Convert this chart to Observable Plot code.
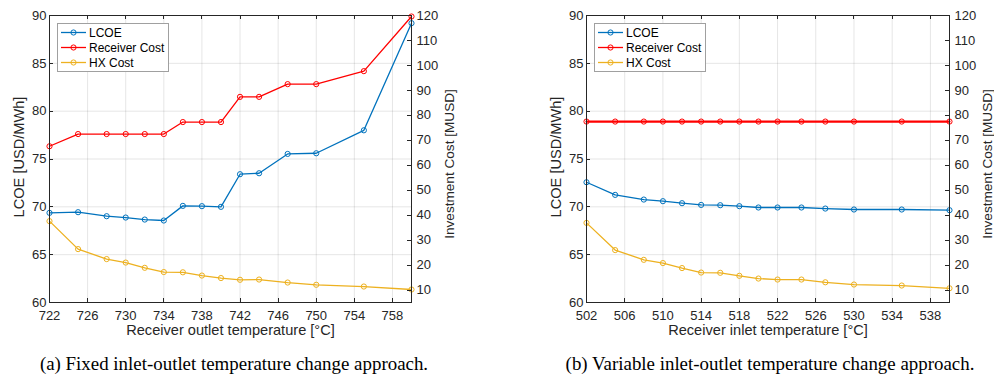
<!DOCTYPE html>
<html>
<head>
<meta charset="utf-8">
<script src="https://cdn.jsdelivr.net/npm/d3@7"></script>
<script src="https://cdn.jsdelivr.net/npm/@observablehq/plot@0.6"></script>
<style>
  html, body { margin: 0; padding: 0; background: #fff; }
  #wrap { position: relative; width: 994px; height: 378px; overflow: hidden; }
  .panel { position: absolute; top: 0; }
  .caption { position: absolute; font-family: "Liberation Serif", "Times New Roman", serif; font-size: 18.9px; color: #000; white-space: nowrap; transform: translate(-50%, -50%); }
  .legend { position: absolute; background: #fff; border: 1px solid #a0a0a0; box-sizing: border-box; }
</style>
</head>
<body>
<div id="wrap"></div>
<script>
// ---------- data ----------
const seriesNames = ["LCOE", "Receiver Cost", "HX Cost"];
const seriesColors = ["#0072BD", "#FF0000", "#EDB120"];

const xA = [722, 725, 728, 730, 732, 734, 736, 738, 740, 742, 744, 747, 750, 755, 760];
const lcoeA = [69.37, 69.44, 69.02, 68.88, 68.67, 68.57, 70.1, 70.07, 70.0, 73.41, 73.51, 75.53, 75.6, 78.0, 89.2];
const recA = [67.6, 72.5, 72.5, 72.5, 72.5, 72.5, 77.3, 77.3, 77.3, 87.4, 87.4, 92.5, 92.5, 97.7, 119.6];
const hxA = [37.6, 26.4, 22.4, 21.0, 18.9, 17.2, 17.1, 15.8, 14.8, 14.1, 14.2, 13.0, 12.1, 11.4, 10.2];

const xB = [502, 505, 508, 510, 512, 514, 516, 518, 520, 522, 524.5, 527, 530, 535, 540];
const lcoeB = [72.57, 71.25, 70.76, 70.59, 70.38, 70.2, 70.17, 70.07, 69.93, 69.93, 69.93, 69.82, 69.72, 69.72, 69.65];
const recB = [77.5, 77.5, 77.5, 77.5, 77.5, 77.5, 77.5, 77.5, 77.5, 77.5, 77.5, 77.5, 77.5, 77.5, 77.5];
const hxB = [36.9, 26.0, 22.1, 20.8, 18.8, 17.0, 16.9, 15.7, 14.6, 14.2, 14.2, 13.1, 12.2, 11.8, 10.7];

const xTicksA = [722, 726, 730, 734, 738, 742, 746, 750, 754, 758];
const xTicksB = [502, 506, 510, 514, 518, 522, 526, 530, 534, 538];
const leftTicks = [60, 65, 70, 75, 80, 85, 90];
const rightTicks = [10, 20, 30, 40, 50, 60, 70, 80, 90, 100, 110, 120];
const leftDomain = [60, 90];
const rightDomain = [5, 120];

const captionA = "(a) Fixed inlet-outlet temperature change approach.";
const captionB = "(b) Variable inlet-outlet temperature change approach.";
const xLabelA = "Receiver outlet temperature [°C]";
const xLabelB = "Receiver inlet temperature [°C]";
const yLabelL = "LCOE [USD/MWh]";
const yLabelR = "Investment Cost [MUSD]";

// right axis value -> left scale units
const toLeft = v => leftDomain[0] + (v - rightDomain[0]) * (leftDomain[1] - leftDomain[0]) / (rightDomain[1] - rightDomain[0]);
const fromLeft = u => rightDomain[0] + (u - leftDomain[0]) * (rightDomain[1] - rightDomain[0]) / (leftDomain[1] - leftDomain[0]);

const INK = "#262626";

function tickMarks(xt, lt, rt) {
  return (index, scales, values, dimensions) => {
    const {x, y} = scales;
    const {width, height, marginLeft, marginRight, marginTop, marginBottom} = dimensions;
    const L = marginLeft, R = width - marginRight, T = marginTop, B = height - marginBottom;
    const len = 4;
    const g = d3.create("svg:g").attr("stroke", INK).attr("stroke-width", 1).attr("fill", "none");
    for (const t of xt) {
      const px = Math.round(x(t)) + 0.5;
      g.append("line").attr("x1", px).attr("x2", px).attr("y1", B).attr("y2", B - len);
      g.append("line").attr("x1", px).attr("x2", px).attr("y1", T).attr("y2", T + len);
    }
    for (const t of lt) {
      const py = Math.round(y(t)) + 0.5;
      g.append("line").attr("x1", L).attr("x2", L + len).attr("y1", py).attr("y2", py);
    }
    for (const t of rt) {
      const py = Math.round(y(toLeft(t))) + 0.5;
      g.append("line").attr("x1", R).attr("x2", R - len).attr("y1", py).attr("y2", py);
    }
    return g.node();
  };
}

function makePanel({xs, lcoe, rec, hx, xDomain, xTicks, xLabel, marginLeft, marginRight, recWidth}) {
  const rows = xs.map((x, i) => ({x, lcoe: lcoe[i], rec: toLeft(rec[i]), hx: toLeft(hx[i])}));
  const line = (key, color, sw) => Plot.line(rows, {x: "x", y: key, stroke: color, strokeWidth: sw});
  const dots = (key, color) => Plot.dot(rows, {x: "x", y: key, stroke: color, fill: "none", r: 2.6, strokeWidth: 1});
  return Plot.plot({
    width: 497,
    height: 345,
    marginTop: 15,
    marginBottom: 43,
    marginLeft,
    marginRight,
    style: {fontFamily: "'Liberation Sans', Arial, sans-serif", fontSize: "13px", color: INK, background: "transparent"},
    x: {domain: xDomain},
    y: {domain: leftDomain},
    marks: [
      Plot.gridX(xTicks, {stroke: "#000", strokeOpacity: 0.1}),
      Plot.gridY(leftTicks, {stroke: "#000", strokeOpacity: 0.1}),
      line("hx", seriesColors[2], 1.3),
      dots("hx", seriesColors[2]),
      line("rec", seriesColors[1], recWidth),
      dots("rec", seriesColors[1]),
      line("lcoe", seriesColors[0], 1.3),
      dots("lcoe", seriesColors[0]),
      Plot.frame({stroke: INK, strokeWidth: 1}),
      tickMarks(xTicks, leftTicks, rightTicks),
      Plot.axisX({ticks: xTicks, tickSize: 0, tickPadding: 8, label: null, fontSize: 13}),
      Plot.axisY({anchor: "left", ticks: leftTicks, tickSize: 0, tickPadding: 3, label: null, fontSize: 13}),
      Plot.axisY({anchor: "right", ticks: rightTicks.map(toLeft), tickFormat: d => String(Math.round(fromLeft(d))), tickSize: 0, tickPadding: 5, label: null, fontSize: 13}),
      Plot.text([xLabel], {frameAnchor: "bottom", dy: 32, text: d => d, fill: INK, fontSize: 14.6, textAnchor: "middle"}),
      Plot.text([yLabelL], {frameAnchor: "left", dx: -30, dy: -2, rotate: -90, text: d => d, fill: INK, fontSize: 14.6, textAnchor: "middle"}),
      Plot.text([yLabelR], {frameAnchor: "right", dx: 38, dy: 5, rotate: -90, text: d => d, fill: INK, fontSize: 13.6, textAnchor: "middle"})
    ]
  });
}

function makeLegend(left, top) {
  const div = document.createElement("div");
  div.className = "legend";
  Object.assign(div.style, {left: left + "px", top: top + "px", width: "112px", height: "49px"});
  const svg = d3.create("svg").attr("width", 110).attr("height", 47)
    .style("font-family", "'Liberation Sans', Arial, sans-serif").style("font-size", "12px");
  seriesNames.forEach((name, i) => {
    const cy = 8.5 + i * 15;
    svg.append("line").attr("x1", 3).attr("x2", 28).attr("y1", cy).attr("y2", cy)
      .attr("stroke", seriesColors[i]).attr("stroke-width", 1.3);
    svg.append("circle").attr("cx", 15.5).attr("cy", cy).attr("r", 2.6)
      .attr("stroke", seriesColors[i]).attr("fill", "none");
    svg.append("text").attr("x", 31).attr("y", cy).attr("dy", "0.35em").attr("fill", "#000").text(name);
  });
  div.appendChild(svg.node());
  return div;
}

const wrap = document.getElementById("wrap");

const pA = makePanel({xs: xA, lcoe: lcoeA, rec: recA, hx: hxA, xDomain: [722, 760], xTicks: xTicksA, xLabel: xLabelA, marginLeft: 49, marginRight: 86, recWidth: 1.3});
const dA = document.createElement("div"); dA.className = "panel"; dA.style.left = "0px"; dA.appendChild(pA); wrap.appendChild(dA);

const pB = makePanel({xs: xB, lcoe: lcoeB, rec: recB, hx: hxB, xDomain: [502, 540], xTicks: xTicksB, xLabel: xLabelB, marginLeft: 89, marginRight: 45, recWidth: 2.2});
const dB = document.createElement("div"); dB.className = "panel"; dB.style.left = "497px"; dB.appendChild(pB); wrap.appendChild(dB);

wrap.appendChild(makeLegend(57, 23));
wrap.appendChild(makeLegend(594, 23));

function addCaption(text, cx, cy) {
  const c = document.createElement("div");
  c.className = "caption";
  c.style.left = cx + "px";
  c.style.top = cy + "px";
  c.textContent = text;
  wrap.appendChild(c);
}
addCaption(captionA, 234, 364);
addCaption(captionB, 770, 364);
</script>
</body>
</html>
